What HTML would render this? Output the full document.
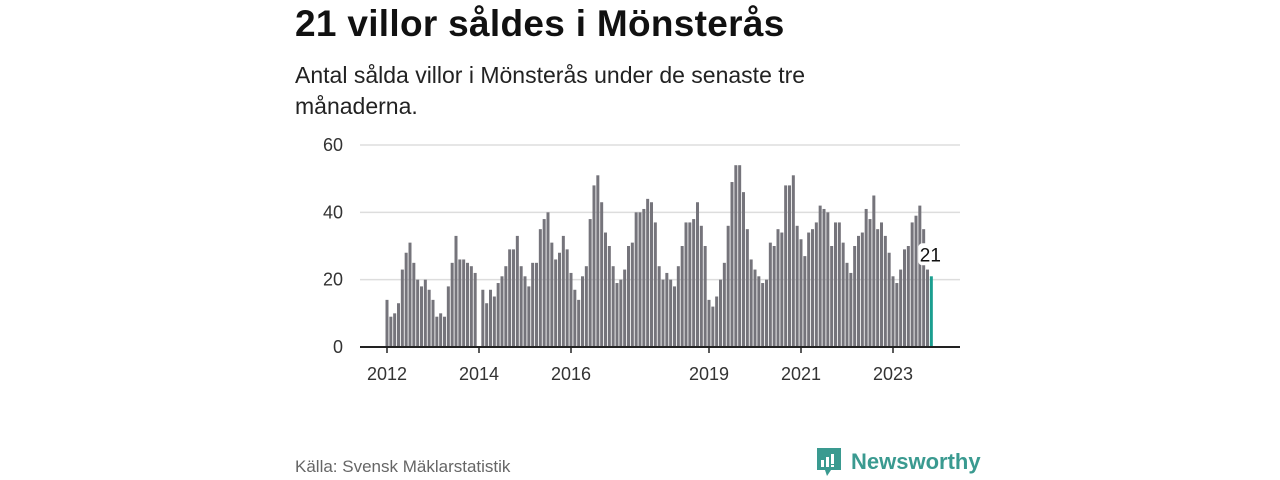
<!DOCTYPE html>
<html><head><meta charset="utf-8"><style>
body{margin:0;width:1280px;height:480px;background:#fff;font-family:"Liberation Sans",sans-serif;overflow:hidden;position:relative}
.t{position:absolute;left:295px;top:3px;font-size:37px;font-weight:bold;color:#111;margin:0;letter-spacing:0.3px}
.s{position:absolute;left:295px;top:60px;font-size:23px;line-height:31px;color:#222;width:610px}
.src{position:absolute;left:295px;top:457px;font-size:17px;color:#666}
.logo{position:absolute;left:815px;top:446px;display:flex;align-items:center;color:#3a9a90;font-size:22px;font-weight:bold}
</style></head><body>
<h1 class="t">21 villor såldes i Mönsterås</h1>
<div class="s">Antal sålda villor i Mönsterås under de senaste tre månaderna.</div>
<svg id="c" width="1280" height="480" style="position:absolute;left:0;top:0"></svg>
<div class="src">Källa: Svensk Mäklarstatistik</div>
<div class="logo">
<svg width="28" height="32" viewBox="0 0 28 32" style="margin-right:8px"><path d="M2 2h24v22H16l-4 6-2-6H2z" fill="#3a9a90"/><rect x="6" y="14" width="3" height="7" fill="#fff"/><rect x="11" y="11" width="3" height="10" fill="#fff"/><rect x="16" y="8" width="3" height="10" fill="#fff"/><rect x="16" y="19" width="3" height="2" fill="#fff"/></svg>Newsworthy</div>
<script>
const values=[14,9,10,13,23,28,31,25,20,18,20,17,14,9,10,9,18,25,33,26,26,25,24,22,
null,17,13,17,15,19,21,24,29,29,33,24,21,18,25,25,35,38,40,31,26,28,33,29,
22,17,14,21,24,38,48,51,43,34,30,24,19,20,23,30,31,40,40,41,44,43,37,24,
20,22,20,18,24,30,37,37,38,43,36,30,14,12,15,20,25,36,49,54,54,46,35,26,
23,21,19,20,31,30,35,34,48,48,51,36,32,27,34,35,37,42,41,40,30,37,37,31,
25,22,30,33,34,41,38,45,35,37,33,28,21,19,23,29,30,37,39,42,35,23,21];
const yTicks=[0,20,40,60];
const xTickYears=[2012,2014,2016,2019,2021,2023];
const startYear=2012;
const svg=document.getElementById('c');const NS='http://www.w3.org/2000/svg';
const x0=387,pxMonth=46/12,yZero=347,pxUnit=(347-145)/60;
const X=i=>x0+i*pxMonth, Y=v=>yZero-v*pxUnit;
function mk(t,a){const e=document.createElementNS(NS,t);for(const k in a)e.setAttribute(k,a[k]);svg.appendChild(e);return e;}
yTicks.forEach(v=>{
 if(v>0){const g=mk('line',{x1:360,x2:960,y1:Y(v),y2:Y(v),stroke:'#ddd','stroke-width':1.5});
 
 }
 const t=mk('text',{x:343,y:Y(v)+6,'text-anchor':'end','font-size':18,fill:'#333','font-family':'Liberation Sans, sans-serif'});t.textContent=v;
 
 
});
values.forEach((v,i)=>{if(v==null)return;const last=i===values.length-1;
 const r=mk('rect',{x:X(i)-1.5,y:Y(v),width:3,height:v*pxUnit,fill:last?'#1a9e8f':'#75747b'});
 
 });
const ax=mk('line',{x1:360,x2:960,y1:yZero,y2:yZero,stroke:'#222','stroke-width':2});


xTickYears.forEach(yr=>{const xx=X((yr-startYear)*12);
 const tk=mk('line',{x1:xx,x2:xx,y1:yZero,y2:yZero+6,stroke:'#222','stroke-width':1.5});
 
 
 const t=mk('text',{x:xx,y:380,'text-anchor':'middle','font-size':18,fill:'#333','font-family':'Liberation Sans, sans-serif'});t.textContent=yr;
 
 });
const li=values.length-1;
const bg=mk('rect',{x:X(li)-13,y:Y(values[li])-33,width:24,height:22,rx:4,fill:'#fff'});


const lb=mk('text',{x:X(li)-1,y:Y(values[li])-15,'text-anchor':'middle','font-size':19,fill:'#111','font-family':'Liberation Sans, sans-serif'});lb.textContent=values[li];


</script>
</body></html>
